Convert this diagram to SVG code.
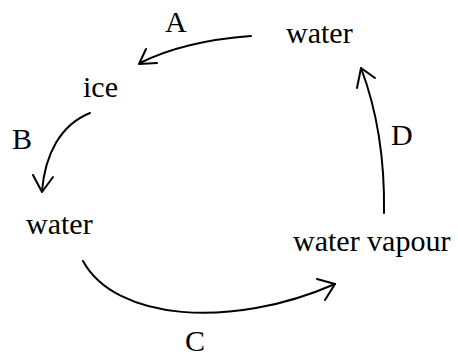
<svg xmlns="http://www.w3.org/2000/svg" width="458" height="356" viewBox="0 0 458 356">
<style>
text{font-family:"Liberation Serif","Times New Roman",serif;font-size:30px;fill:#000}
.c{fill:none;stroke:#000;stroke-width:2;stroke-linecap:round;stroke-linejoin:round}
</style>
<rect width="458" height="356" fill="#fff"/>
<g id="water-top"><text x="286" y="43">water</text></g>
<g id="ice"><text x="83" y="97">ice</text></g>
<g id="water-left"><text x="26" y="234">water</text></g>
<g id="water-vapour"><text x="293" y="251">water vapour</text></g>
<g id="connectors">
<path class="c" d="M251,36 C210,39 170,48 140,63"/>
<polyline class="c" points="146,49 139,64 157,63"/>
<text x="165" y="32">A</text>
<path class="c" d="M90,113 C60,125 45,155 42,191"/>
<polyline class="c" points="33,175 42,192 53,177"/>
<text x="12" y="149">B</text>
<path class="c" d="M83,261 C115,320 230,330 335,284"/>
<polyline class="c" points="317,279 335,284 325,300"/>
<text x="185" y="351">C</text>
<path class="c" d="M384,213 C385,150 375,105 361,68"/>
<polyline class="c" points="375,78 361,68 357,88"/>
<text x="391" y="145">D</text>
</g>
</svg>
